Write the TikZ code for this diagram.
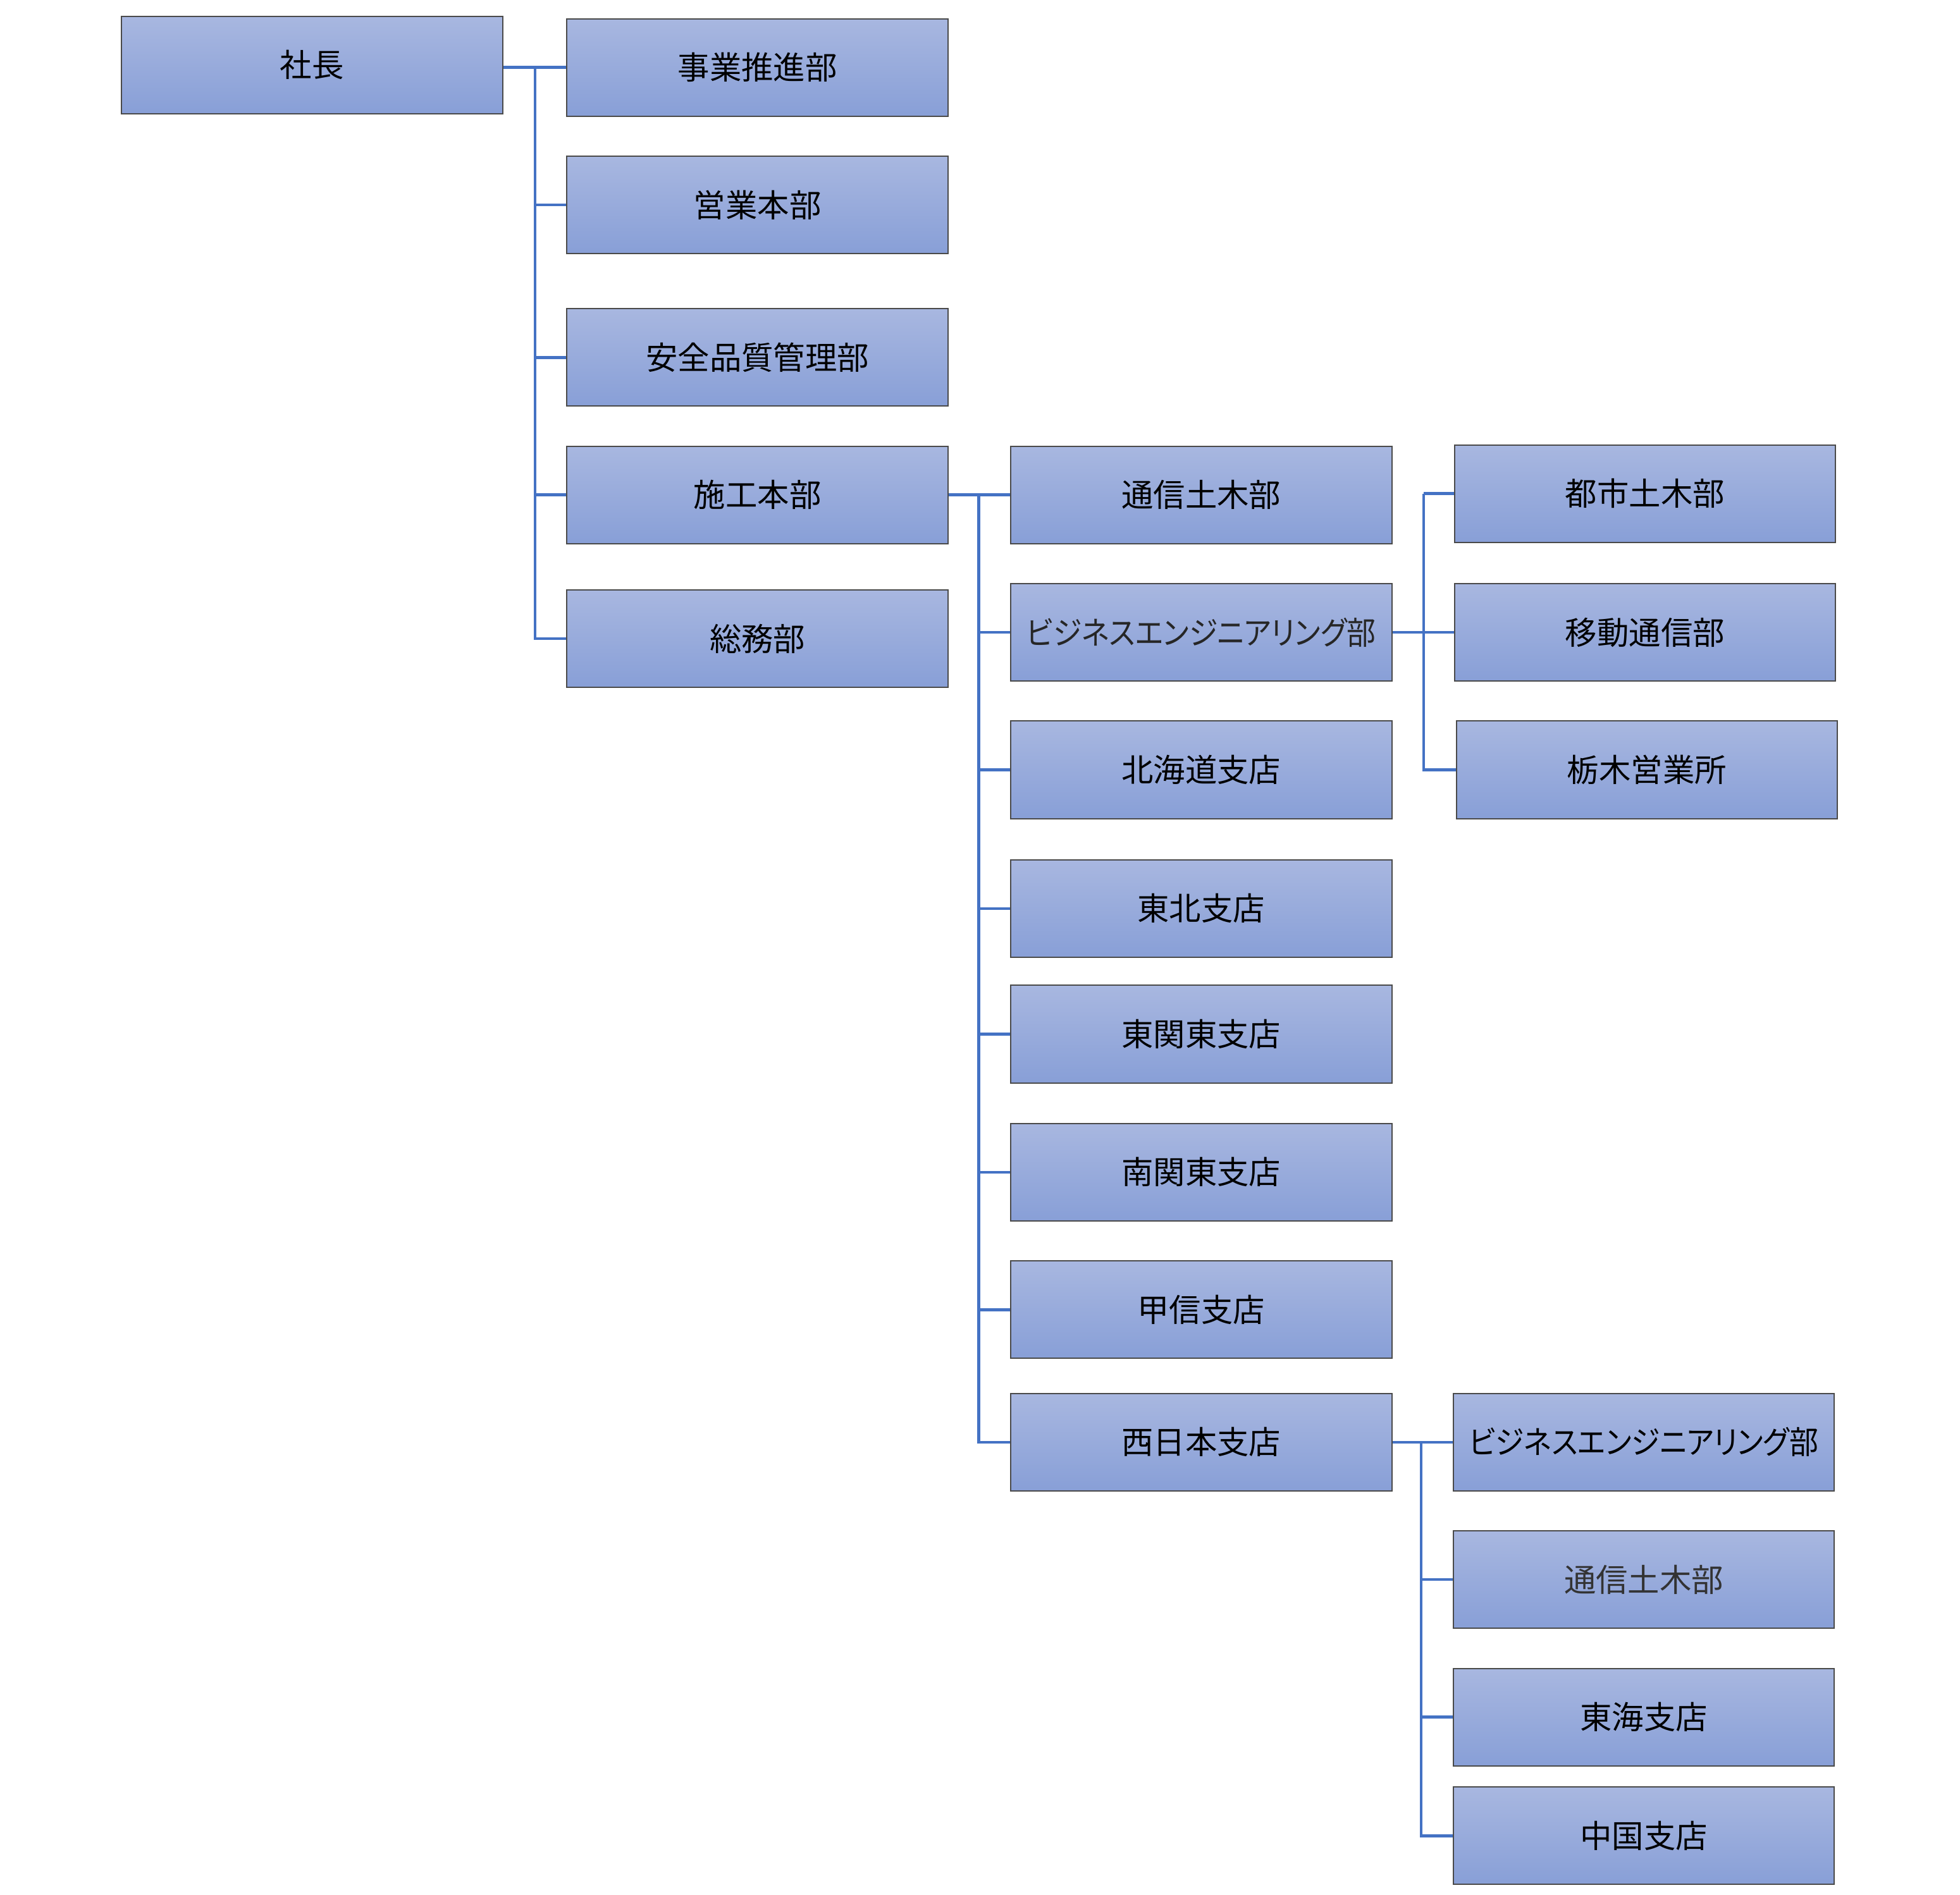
\documentclass[tikz,border=0pt]{standalone}
\usepackage{fontspec}
\setmainfont{Noto Sans CJK JP}[RawFeature=+palt]
\newfontfamily\narrowjp{Noto Sans CJK JP}[RawFeature=+palt,FakeStretch=0.91]
\usepackage{tikz}
\usepackage{xcolor}
\definecolor{boxtop}{HTML}{A8B7E0}
\definecolor{boxbot}{HTML}{889FD7}
\definecolor{boxline}{HTML}{4A4A4A}
\definecolor{linkblue}{HTML}{4472C4}

\begin{document}
\begin{tikzpicture}[x=0.5pt,y=-0.5pt,
    unit/.style={rectangle,draw=boxline,line width=0.5pt,top color=boxtop,bottom color=boxbot,
        minimum width=152.5pt,minimum height=39pt,inner sep=0pt,
        font=\fontsize{12.75}{15}\selectfont,text=black},
    link/.style={draw=linkblue,line width=1.15pt}]
            \useasboundingbox (0,0) rectangle (1568,1516);
            % top level
            \node (a) at (249.5,52) [unit] {社長};
            % second column
            \node (b1) at (606,54) [unit] {事業推進部};
            \node (b2) at (606,164) [unit] {営業本部};
            \node (b3) at (606,286) [unit] {安全品質管理部};
            \node (b4) at (606,396) [unit] {施工本部};
            \node (b5) at (606,511) [unit] {総務部};
            % third column
            \node (c1) at (961,396) [unit] {通信土木部};
            \node (c2) at (961,506) [unit,text=black!85] {\narrowjp ビジネスエンジニアリング部};
            \node (c3) at (961,616) [unit] {北海道支店};
            \node (c4) at (961,727) [unit] {東北支店};
            \node (c5) at (961,827.5) [unit] {東関東支店};
            \node (c6) at (961,938) [unit] {南関東支店};
            \node (c7) at (961,1048) [unit] {甲信支店};
            \node (c8) at (961,1154) [unit] {西日本支店};
            % fourth column
            \node (d1) at (1316,395) [unit] {都市土木部};
            \node (d2) at (1316,506) [unit] {移動通信部};
            \node (d3) at (1317.5,616) [unit] {栃木営業所};
            \node (d4) at (1315,1154) [unit] {\narrowjp ビジネスエンジニアリング部};
            \node (d5) at (1315,1264) [unit,text=black!80] {通信土木部};
            \node (d6) at (1315,1374) [unit] {東海支店};
            \node (d7) at (1315,1469) [unit] {中国支店};
            % bus points
            \coordinate (p) at (428,54);
            \coordinate (q) at (783,396);
            \coordinate (r) at (1139,506);
            \coordinate (s) at (1137,1154);
            \draw[link] (a.east |- p) -- (b1.west) (p) -- (p |- b5.west) -- (b5.west)
                (p |- b2.west) -- (b2.west) (p |- b3.west) -- (b3.west) (p |- b4.west) -- (b4.west);
            \draw[link] (b4.east) -- (c1.west) (q) -- (q |- c8.west) -- (c8.west)
                (q |- c2.west) -- (c2.west) (q |- c3.west) -- (c3.west) (q |- c4.west) -- (c4.west)
                (q |- c5.west) -- (c5.west) (q |- c6.west) -- (c6.west) (q |- c7.west) -- (c7.west);
            \draw[link] (c2.east) -- (d2.west) (r |- d1.west) -- (d1.west) (r |- d1.west) -- (r |- d3.west) -- (d3.west);
            \draw[link] (c8.east) -- (d4.west) (s) -- (s |- d7.west) -- (d7.west)
                (s |- d5.west) -- (d5.west) (s |- d6.west) -- (d6.west);
        \end{tikzpicture}
\end{document}
